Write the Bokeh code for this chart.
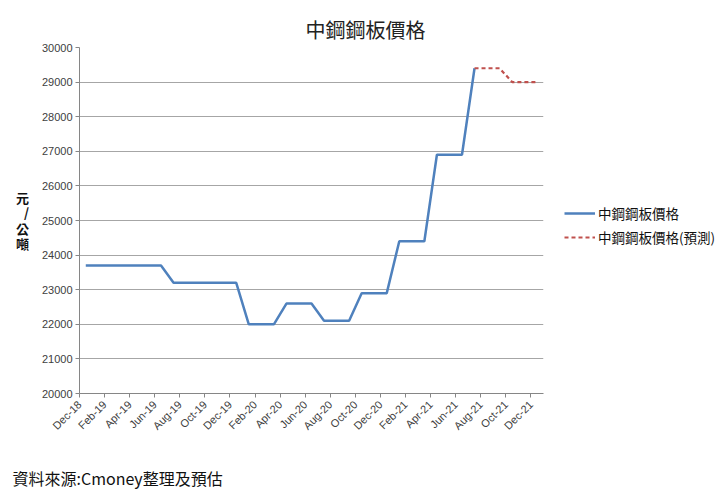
from bokeh.plotting import figure
from bokeh.models import Legend, LegendItem, FixedTicker, Range1d, ColumnDataSource, Title
from bokeh.embed import file_html
from bokeh.resources import INLINE

# ---- data ----
month_labels = ["Dec-18", "Jan-19", "Feb-19", "Mar-19", "Apr-19", "May-19", "Jun-19",
                "Jul-19", "Aug-19", "Sep-19", "Oct-19", "Nov-19", "Dec-19",
                "Jan-20", "Feb-20", "Mar-20", "Apr-20", "May-20", "Jun-20",
                "Jul-20", "Aug-20", "Sep-20", "Oct-20", "Nov-20", "Dec-20",
                "Jan-21", "Feb-21", "Mar-21", "Apr-21", "May-21", "Jun-21",
                "Jul-21", "Aug-21", "Sep-21", "Oct-21", "Nov-21", "Dec-21"]
actual_values = [23700, 23700, 23700, 23700, 23700, 23700, 23700,
                 23200, 23200, 23200, 23200, 23200, 23200,
                 22000, 22000, 22000, 22600, 22600, 22600,
                 22100, 22100, 22100, 22900, 22900, 22900,
                 24400, 24400, 24400, 26900, 26900, 26900,
                 29400]
forecast_start = 31
forecast_values = [29400, 29400, 29400, 29000, 29000, 29000]
y_ticks = [20000, 21000, 22000, 23000, 24000, 25000, 26000, 27000, 28000, 29000, 30000]
x_tick_labels = month_labels[::2]

series_actual = "中鋼鋼板價格"
series_forecast = "中鋼鋼板價格(預測)"
title_text = "中鋼鋼板價格"
y_title = "元\n/\n公\n噸"
source_text = "資料來源:Cmoney整理及預估"

# ---- sources ----
src_a = ColumnDataSource(dict(x=[i + 0.5 for i in range(len(actual_values))], y=actual_values))
src_f = ColumnDataSource(dict(x=[forecast_start + i + 0.5 for i in range(len(forecast_values))], y=forecast_values))

cjk = "Noto Sans CJK TC"

p = figure(frame_width=464, frame_height=346, output_backend="svg", toolbar_location=None,
           x_range=Range1d(0, len(month_labels)), y_range=Range1d(y_ticks[0], y_ticks[-1]),
           min_border_left=79, min_border_right=168, min_border_top=47, min_border_bottom=111,
           title=None)
p.outline_line_color = None

r1 = p.line("x", "y", source=src_a, line_color="#4F81BD", line_width=2.5)
r2 = p.line("x", "y", source=src_f, line_color="#C0504D", line_width=2.2, line_dash="4 3")

axis_color = "#868686"
label_color = "#404040"
font = "Liberation Sans"

p.yaxis.ticker = FixedTicker(ticks=y_ticks)
p.yaxis.major_label_overrides = {t: str(t) for t in y_ticks}
p.xaxis.ticker = FixedTicker(ticks=list(range(0, len(month_labels), 2)))
p.xaxis.major_label_overrides = {i * 2: lab for i, lab in enumerate(x_tick_labels)}
p.xaxis.major_label_orientation = 0.785398

for ax in (p.xaxis, p.yaxis):
    ax.axis_line_color = axis_color
    ax.major_tick_line_color = axis_color
    ax.minor_tick_line_color = None
    ax.major_tick_in = 0
    ax.major_tick_out = 4
    ax.major_label_text_font = font
    ax.major_label_text_font_size = "11px"
    ax.major_label_text_color = label_color
    ax.major_label_standoff = 3
p.xaxis.major_label_standoff = 5

p.yaxis.axis_label = y_title
p.yaxis.axis_label_orientation = "horizontal"
p.yaxis.axis_label_text_font = cjk
p.yaxis.axis_label_text_font_size = "13px"
p.yaxis.axis_label_text_font_style = "bold"
p.yaxis.axis_label_text_color = "#111111"
p.yaxis.axis_label_standoff = 10
p.yaxis.axis_label_text_line_height = 0.82

p.xgrid.visible = False
p.ygrid.grid_line_color = "#a6a6a6"
p.ygrid.grid_line_width = 1

legend = Legend(items=[LegendItem(label=series_actual, renderers=[r1]),
                       LegendItem(label=series_forecast, renderers=[r2])],
                location=(21, 146), border_line_color=None, background_fill_alpha=0,
                padding=0, margin=0, spacing=4, glyph_width=31, label_standoff=3,
                label_text_font=cjk, label_text_font_size="13.5px",
                label_text_color="#111111")
p.add_layout(legend, "right")

p.add_layout(Title(text=title_text, align="left", offset=226, standoff=4,
                   vertical_align="top",
                   text_font=cjk, text_font_size="20px", text_font_style="normal",
                   text_color="#222222"), "above")
p.add_layout(Title(text=source_text, align="left", offset=-67, standoff=49,
                   text_font=cjk, text_font_size="16px", text_font_style="normal",
                   text_color="#111111"), "below")

open("out.html", "w").write(file_html(p, INLINE))
